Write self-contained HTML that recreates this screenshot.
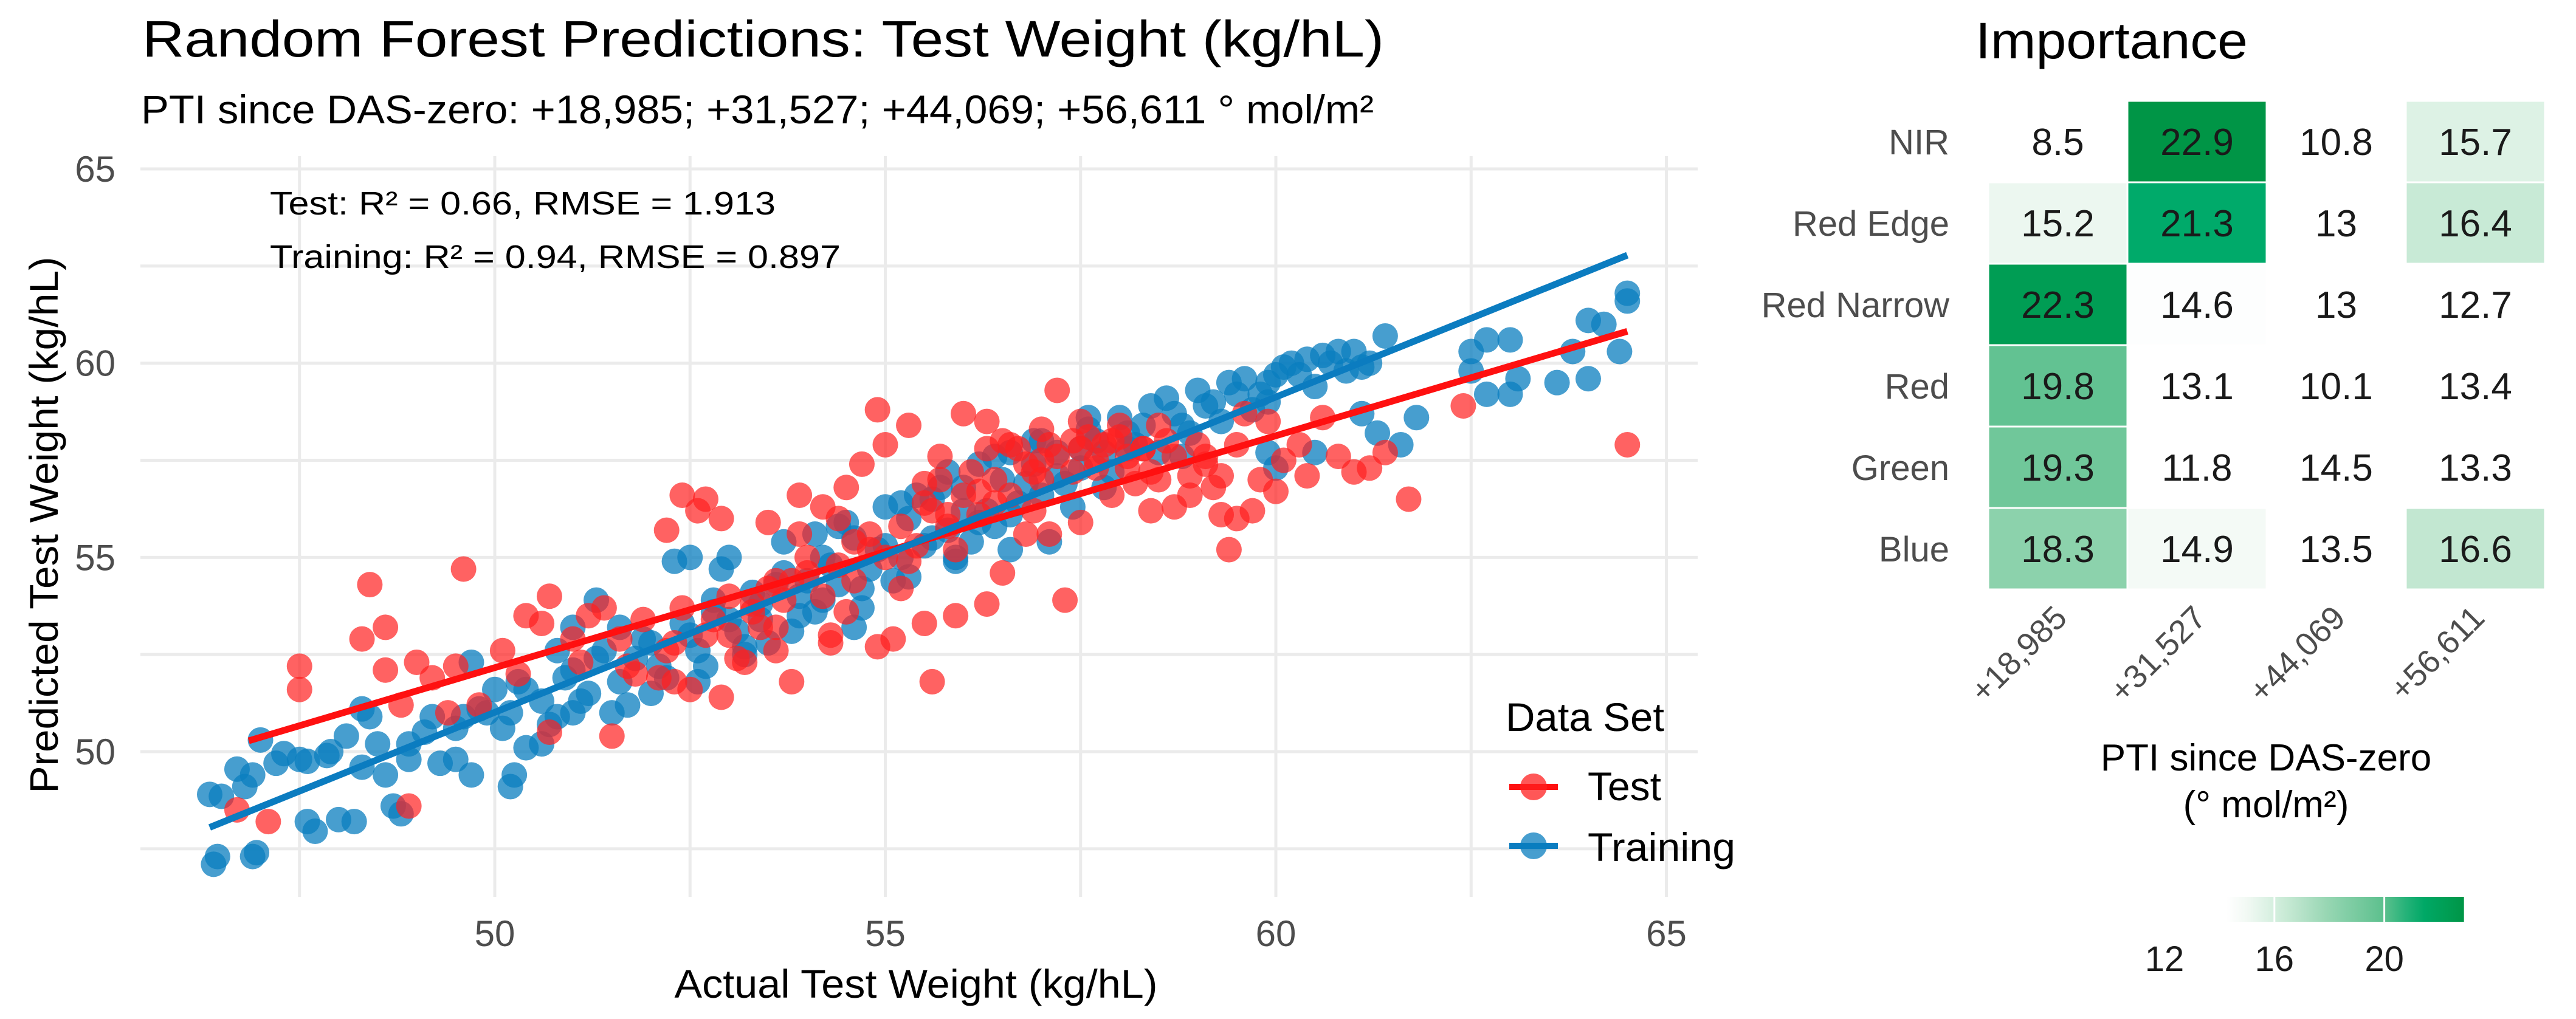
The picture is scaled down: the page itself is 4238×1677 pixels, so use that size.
<!DOCTYPE html>
<html><head><meta charset="utf-8"><style>
html,body{margin:0;padding:0;background:#fff;}
svg{display:block;font-family:"Liberation Sans",Arial,sans-serif;}
</style></head><body>
<svg id="chart" width="4238" height="1677" viewBox="0 0 4238 1677" xmlns="http://www.w3.org/2000/svg">
<rect width="4238" height="1677" fill="#fff"/>
<g id="left"></g>
<g id="right"></g>
<text x="234" y="93" font-size="84" fill="#000" textLength="2043" lengthAdjust="spacingAndGlyphs">Random Forest Predictions: Test Weight (kg/hL)</text>
<text x="232" y="203" font-size="66" fill="#000" textLength="2028" lengthAdjust="spacingAndGlyphs">PTI since DAS-zero: +18,985; +31,527; +44,069; +56,611 ° mol/m²</text>
<text x="3250" y="96" font-size="84" fill="#000" textLength="448" lengthAdjust="spacingAndGlyphs">Importance</text>
</svg>
<script>
// ---------- scatter data ----------
const trainX=[46.4,46.45,46.9,46.95,46.35,46.5,46.7,46.8,46.9,47.0,47.3,47.5,47.6,47.85,47.6,47.7,48.0,48.2,47.9,48.1,48.3,48.4,48.3,48.6,48.7,48.8,48.9,49.1,49.3,49.5,49.7,49.5,49.6,49.8,49.7,50.0,50.2,50.3,50.2,50.25,50.4,50.6,50.8,51.0,51.2,51.4,51.5,51.6,51.8,52.0,52.2,52.3,52.5,52.7,52.9,53.0,53.2,53.4,53.6,53.7,53.8,54.0,54.1,54.3,54.5,54.7,54.9,55.0,55.2,55.4,55.6,55.8,56.0,56.2,56.4,56.6,56.8,57.0,57.2,57.4,57.6,57.8,58.0,58.2,58.4,58.6,58.8,59.0,59.2,59.4,59.6,59.8,60.0,60.2,60.4,60.6,60.8,61.0,61.2,61.4,60.0,59.9,60.5,61.1,61.3,61.6,61.8,62.5,62.7,63.0,62.5,62.7,63.1,63.6,63.8,64.0,64.0,64.2,64.4,64.5,64.5,63.0,59.9,60.5,60.9,57.1,56.6,56.2,55.7,56.9,57.5,58.1,54.2,53.9,54.6,55.3,55.9,53.0,52.5,52.8,51.3,51.0,50.8,
49.9,50.1,50.4,50.6,50.9,51.1,51.3,51.6,51.9,52.1,52.4,52.6,52.8,53.1,53.3,53.5,53.7,53.9,54.1,54.2,54.4,54.6,54.8,55.0,55.1,55.3,55.5,55.6,55.8,56.0,56.1,56.3,56.5,56.7,56.9,57.0,57.2,57.3,57.5,57.7,57.9,58.1,58.3,58.5,58.7,58.9,59.1,59.3,59.5,59.7,59.9,60.1,60.3,60.7,61.1,54.4,55.2,56.4,57.6,53.4,52.0,51.0,55.9,57.8,56.6,58.8,54.7,53.2,52.6,51.7,50.7,49.2,48.9,48.5,47.2];
const trainY=[47.1,47.3,47.3,47.4,48.9,48.85,49.55,49.1,49.4,50.3,49.95,49.8,49.75,49.9,48.2,47.95,48.25,48.2,50.0,50.4,49.6,50.9,51.1,49.4,48.6,48.4,50.2,50.5,49.7,49.8,49.4,50.6,50.9,51.1,52.3,51.6,51.0,51.8,49.1,49.4,50.1,51.3,50.9,52.1,51.5,52.6,51.0,53.2,52.4,52.8,51.9,54.9,53.0,52.2,54.7,53.4,52.7,53.8,54.3,55.4,53.1,54.4,55.6,54.8,55.9,54.2,55.2,56.3,55.0,56.6,55.5,57.2,56.2,57.4,55.8,57.7,56.9,58.0,57.1,56.3,58.3,57.7,58.6,57.9,58.9,59.1,58.4,59.3,59.0,59.5,59.6,59.2,59.7,60.0,60.1,60.2,60.3,60.3,60.0,60.7,57.3,57.7,57.7,58.7,58.2,57.9,58.6,60.3,60.6,60.6,59.8,59.2,59.6,59.5,60.3,59.6,61.1,61.0,60.3,61.6,61.8,59.2,59.0,59.4,59.8,55.4,56.1,55.9,56.8,58.0,57.8,58.2,53.9,53.5,53.2,54.5,55.0,55.0,55.0,53.6,53.9,53.2,52.6,
51.0,50.6,51.6,50.2,51.9,51.3,52.4,51.8,52.9,52.2,53.3,52.6,53.9,53.1,54.1,52.8,54.6,54.0,53.6,55.0,54.3,55.5,54.7,55.3,54.4,56.0,55.3,56.5,55.7,56.8,55.4,56.2,57.0,56.4,57.4,56.6,57.7,56.9,57.3,58.0,57.2,57.8,58.4,57.7,58.7,58.2,58.9,58.5,59.2,58.8,59.5,59.9,59.7,60.0,59.9,55.8,56.4,57.6,58.6,53.4,51.5,51.0,54.9,56.8,55.2,57.6,53.7,52.5,51.8,51.2,50.7,50.9,49.8,50.2,49.7];
const testX=[46.7,47.1,47.5,47.5,48.3,48.4,48.6,48.6,48.9,48.8,49.0,49.2,49.4,49.6,49.8,50.1,50.4,50.6,50.7,50.7,51.0,51.2,51.5,51.4,51.7,51.9,52.1,52.2,52.2,52.4,52.6,52.7,52.9,53.0,53.2,53.4,53.5,53.6,53.8,53.9,54.0,54.2,54.4,54.6,54.7,54.9,55.0,55.1,55.2,55.3,55.5,55.6,55.7,55.9,56.0,56.1,56.3,56.4,56.5,56.7,56.8,57.0,57.2,57.3,57.4,57.5,57.7,57.9,58.1,58.2,58.4,58.5,58.7,58.9,59.0,59.2,59.4,59.3,59.5,59.6,59.8,60.1,60.3,60.6,60.8,61.0,61.2,61.4,61.7,62.4,64.5,55.5,56.6,57.1,57.6,58.0,56.9,55.8,54.8,53.8,53.3,52.7,52.3,51.8,55.3,54.3,53.6,56.2,57.8,58.6,59.1,52.5,53.1,54.5,54.9,58.3,59.9,
52.4,52.8,53.0,53.3,53.5,53.7,54.0,54.2,54.4,54.6,54.8,55.0,55.2,55.4,55.6,55.8,56.0,56.2,56.4,56.6,56.8,57.0,57.2,57.4,57.5,57.7,57.9,58.1,58.3,58.5,58.7,58.9,59.1,59.3,59.5,56.5,57.0,57.5,58.0,56.9,55.7,56.3,54.5,53.9,55.9,56.3,55.5,54.3,53.6,52.9,52.3,51.6,51.1,50.3,49.5,60.4,60.0,59.7,58.4,57.1];
const testY=[48.5,48.2,51.6,52.2,52.9,54.3,53.2,52.1,48.6,51.2,52.3,51.9,51.0,54.7,51.2,52.6,53.5,53.3,54.0,50.5,52.9,53.5,50.4,53.7,52.2,53.4,51.9,52.6,55.7,56.6,56.2,56.5,56.0,53.0,52.3,53.2,55.9,54.4,51.8,56.6,55.0,56.3,56.0,55.4,57.4,58.8,57.9,52.9,54.2,58.4,56.4,51.8,57.0,55.2,58.7,57.2,58.5,56.4,54.6,57.8,55.6,57.5,59.3,53.9,58.0,55.9,57.3,56.6,57.6,56.9,57.2,58.4,56.3,57.1,57.9,56.8,55.2,56.1,56.0,58.7,57.0,57.5,57.9,58.6,57.6,57.2,57.3,57.7,56.5,58.9,57.9,56.9,57.9,57.9,58.1,58.1,57.2,56.1,55.2,54.4,53.8,53.0,52.8,52.0,54.9,53.0,53.2,56.7,57.9,58.0,57.6,51.6,52.4,53.6,52.7,57.8,58.5,
53.7,53.4,54.0,53.6,54.2,53.9,54.6,54.0,54.8,54.4,55.6,55.0,55.8,55.3,56.2,55.8,56.6,56.1,57.0,56.6,57.4,57.0,57.6,57.2,57.8,57.5,58.0,57.3,57.8,57.0,57.6,56.6,57.4,57.1,57.9,58.0,58.3,58.5,58.4,56.2,57.6,57.8,56.8,55.6,53.5,53.8,53.3,52.8,52.6,51.4,51.8,52.9,52.3,52.0,52.2,57.1,56.7,56.2,56.2,55.6];
const redLineX=[46.85,64.5];
const redLineY=[50.28,60.82];
const blueLineX=[46.35,64.5];
const blueLineY=[48.05,62.78];
const xTicks=[50,55,60,65];
const yTicks=[50,55,60,65];
const xMinor=[47.5,52.5,57.5,62.5];
const yMinor=[47.5,52.5,57.5,62.5];

// ---------- heatmap data ----------
const rowLabels=["NIR","Red Edge","Red Narrow","Red","Green","Blue"];
const colLabels=["+18,985","+31,527","+44,069","+56,611"];
const impNIR=[8.5,22.9,10.8,15.7];
const impRedEdge=[15.2,21.3,13,16.4];
const impRedNarrow=[22.3,14.6,13,12.7];
const impRed=[19.8,13.1,10.1,13.4];
const impGreen=[19.3,11.8,14.5,13.3];
const impBlue=[18.3,14.9,13.5,16.6];
const impRows=[impNIR,impRedEdge,impRedNarrow,impRed,impGreen,impBlue];
const legendTicks=[12,16,20];

const NS="http://www.w3.org/2000/svg";
function mk(tag,attrs,parent,txt){const e=document.createElementNS(NS,tag);for(const k in attrs)e.setAttribute(k,attrs[k]);if(txt!==undefined)e.textContent=txt;parent.appendChild(e);return e;}

// scatter axes
const X=v=>814+(v-50)*128.5;
const Y=v=>1237-(v-50)*63.93;
const L=document.getElementById('left');
const PX0=231,PX1=2793,PY0=257,PY1=1476;
xMinor.concat(xTicks).forEach(v=>{const g=mk('line',{x1:X(v),x2:X(v),y1:PY0,y2:PY1,stroke:'#ebebeb','stroke-width':5},L);

});
yMinor.concat(yTicks).forEach(v=>{const g=mk('line',{x1:PX0,x2:PX1,y1:Y(v),y2:Y(v),stroke:'#ebebeb','stroke-width':5},L);

});
xTicks.forEach(v=>{const t=mk('text',{x:X(v),y:1557,'font-size':60,fill:'#4d4d4d','text-anchor':'middle'},L,String(v));

});
yTicks.forEach(v=>{const t=mk('text',{x:190,y:Y(v)+21,'font-size':60,fill:'#4d4d4d','text-anchor':'end'},L,String(v));

});
trainX.forEach((v,i)=>{const c=mk('circle',{cx:X(v),cy:Y(trainY[i]),r:21,fill:'#0a7dbf','fill-opacity':0.75},L);

});
testX.forEach((v,i)=>{const c=mk('circle',{cx:X(v),cy:Y(testY[i]),r:21,fill:'#ff1f1f','fill-opacity':0.7},L);

});
const rl=mk('line',{x1:X(redLineX[0]),y1:Y(redLineY[0]),x2:X(redLineX[1]),y2:Y(redLineY[1]),stroke:'#ff1010','stroke-width':11},L);


const bl=mk('line',{x1:X(blueLineX[0]),y1:Y(blueLineY[0]),x2:X(blueLineX[1]),y2:Y(blueLineY[1]),stroke:'#0b7cc0','stroke-width':11},L);


let t;
t=mk('text',{x:444,y:353,'font-size':54,fill:'#000',textLength:832,lengthAdjust:'spacingAndGlyphs'},L,'Test: R² = 0.66, RMSE = 1.913');


t=mk('text',{x:444,y:441,'font-size':54,fill:'#000',textLength:939,lengthAdjust:'spacingAndGlyphs'},L,'Training: R² = 0.94, RMSE = 0.897');


t=mk('text',{x:1507,y:1642,'font-size':66,fill:'#000','text-anchor':'middle',textLength:795,lengthAdjust:'spacingAndGlyphs'},L,'Actual Test Weight (kg/hL)');


t=mk('text',{x:0,y:0,'font-size':66,fill:'#000','text-anchor':'middle',transform:'translate(95,864) rotate(-90)',textLength:883,lengthAdjust:'spacingAndGlyphs'},L,'Predicted Test Weight (kg/hL)');


t=mk('text',{x:2477,y:1203,'font-size':66,fill:'#000',textLength:261,lengthAdjust:'spacingAndGlyphs'},L,'Data Set');


[['Test','#ff1f1f','#ff1010',1295,1317,121],['Training','#0a7dbf','#0b7cc0',1392,1417,243]].forEach(d=>{
 const g=mk('g',{},L);
 
 
 mk('line',{x1:2483,x2:2563,y1:d[3],y2:d[3],stroke:d[2],'stroke-width':10},g);
 mk('circle',{cx:2523,cy:d[3],r:22,fill:d[1],'fill-opacity':0.75},g);
 mk('text',{x:2612,y:d[4],'font-size':66,fill:'#000',textLength:d[5],lengthAdjust:'spacingAndGlyphs'},g,d[0]);
});

// heatmap
const R=document.getElementById('right');
const C0=3271,CW=229,R0=166,RH=134;
const stops=[[14.55,[255,255,255]],[14.9,[244,250,246]],[16,[213,239,223]],[18,[149,213,177]],[20,[92,192,142]],[21.3,[0,170,106]],[23,[0,148,68]]];
function col(v){if(v<=stops[0][0])return 'rgb(255,255,255)';for(let i=1;i<stops.length;i++){if(v<=stops[i][0]){const a=stops[i-1],b=stops[i],f=(v-a[0])/(b[0]-a[0]);return 'rgb('+a[1].map((c,k)=>Math.round(c+(b[1][k]-c)*f)).join(',')+')';}}return 'rgb(0,148,68)';}
rowLabels.forEach((lab,r)=>{
 const tl=mk('text',{x:3207,y:R0+r*RH+RH/2+21,'font-size':58,fill:'#4d4d4d','text-anchor':'end'},R,lab);
 
 
 impRows[r].forEach((v,c)=>{
  const cell=mk('rect',{x:C0+c*CW+1.5,y:R0+r*RH+1.5,width:CW-3,height:RH-3,fill:col(v)},R);
  
  
  const tv=mk('text',{x:C0+c*CW+CW/2,y:R0+r*RH+RH/2+22,'font-size':62,fill:'#1a1a1a','text-anchor':'middle'},R,String(v));
  
  
 });
});
colLabels.forEach((lab,c)=>{
 const cx=C0+c*CW+CW/2+18;
 const tl=mk('text',{x:0,y:0,'font-size':54,fill:'#4d4d4d','text-anchor':'end',transform:'translate('+cx+',1020) rotate(-45)'},R,lab);
 
 
});
t=mk('text',{x:3728,y:1268,'font-size':62,fill:'#000','text-anchor':'middle'},R,'PTI since DAS-zero');


t=mk('text',{x:3728,y:1345,'font-size':62,fill:'#000','text-anchor':'middle'},R,'(° mol/m²)');


// colorbar
const vmin=8.5,vmax=22.9;
const CB=v=>3561+(v-12)*45.2;
const defs=mk('defs',{},R);
const gr=mk('linearGradient',{id:'cbg',x1:0,x2:1,y1:0,y2:0},defs);
for(let i=0;i<=20;i++){const v=vmin+(vmax-vmin)*i/20;mk('stop',{offset:(i/20),'stop-color':col(v)},gr);}
const bar=mk('rect',{x:CB(vmin),y:1476,width:CB(vmax)-CB(vmin),height:41,fill:'url(#cbg)'},R);


legendTicks.forEach(v=>{
 const tk=mk('line',{x1:CB(v),x2:CB(v),y1:1476,y2:1517,stroke:'#fff','stroke-width':3},R);
 
 
 const tl=mk('text',{x:CB(v),y:1598,'font-size':58,fill:'#1a1a1a','text-anchor':'middle'},R,String(v));
 
 
});
</script>
</body></html>
